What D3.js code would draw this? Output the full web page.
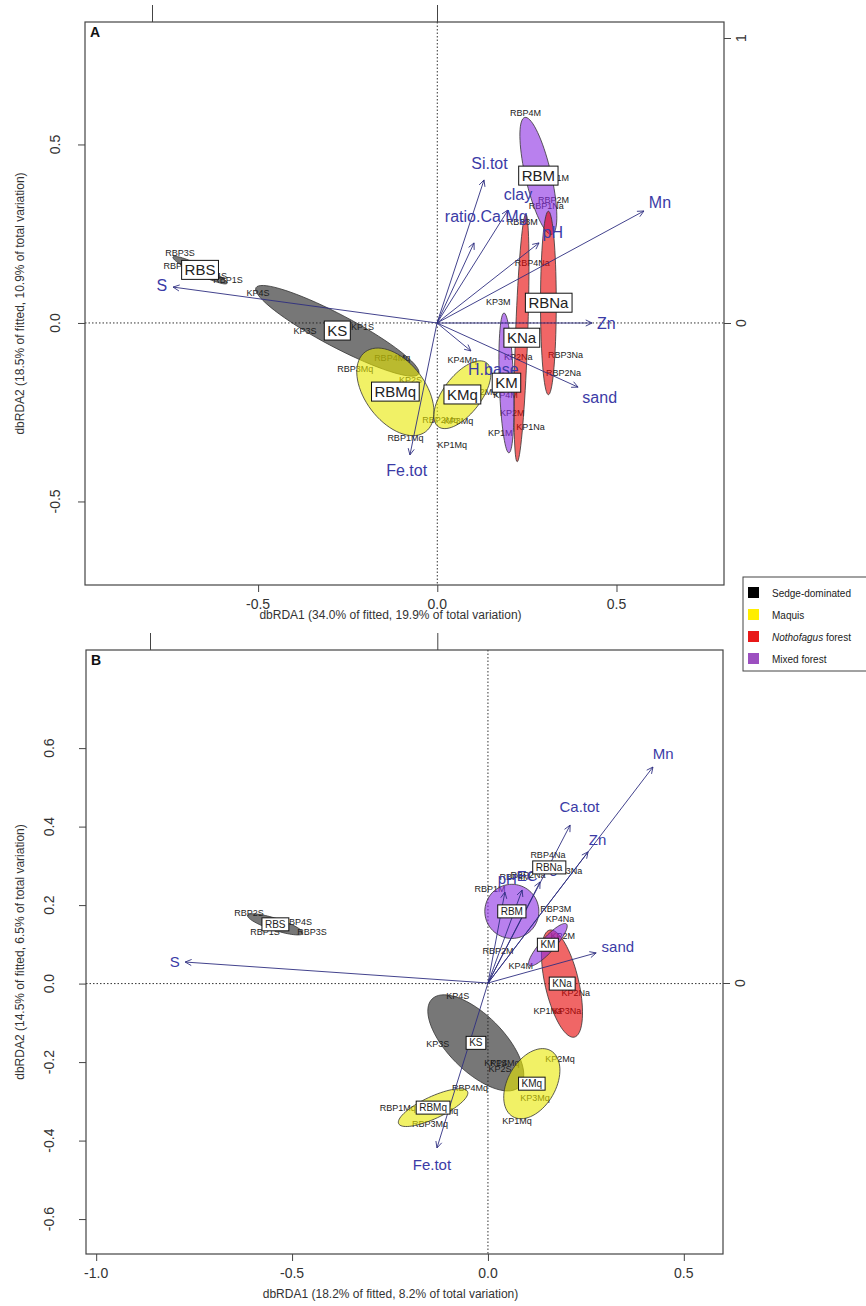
<!DOCTYPE html>
<html>
<head>
<meta charset="utf-8">
<script src="https://cdn.jsdelivr.net/npm/d3@7"></script>
<style>
  body { margin: 0; background: #fff; }
  svg { display: block; font-family: "Liberation Sans", Arial, sans-serif; }
</style>
</head>
<body>
<div id="chart"></div>
<script>
// ---------- Panel A data ----------
var sitesA = ["RBP4M","RBP1M","RBP2M","RBP1Na","RBP3M","RBP4Na","KP3M","RBP3Na","KP2Na","RBP2Na",
  "KP4Mq","KP2Mq","RBP2Mq","KP3Mq","KP1Mq","RBP1Mq","RBP4Mq","RBP3Mq","KP2S","KP1S",
  "KP3S","KP4S","RBP3S","RBP2S","RBP1S","RBP4S","KP2M","KP1Na","KP1M","KP4M"];
var siteXA = [0.246,0.324,0.324,0.304,0.237,0.265,0.170,0.358,0.226,0.352,
  0.070,0.126,0.008,0.059,0.042,-0.089,-0.126,-0.229,-0.075,-0.209,
  -0.369,-0.500,-0.718,-0.723,-0.584,-0.628,0.209,0.260,0.176,0.190];
var siteYA = [0.588,0.406,0.345,0.328,0.283,0.168,0.059,-0.090,-0.095,-0.140,
  -0.104,-0.193,-0.272,-0.275,-0.342,-0.322,-0.098,-0.129,-0.160,-0.011,
  -0.022,0.084,0.196,0.160,0.120,0.132,-0.252,-0.291,-0.308,-0.202];

var groupsA = ["RBS","KS","RBMq","KMq","RBM","RBNa","KNa","KM"];
var habitatA = ["Sedge","Sedge","Maquis","Maquis","Mixed","Nothofagus","Nothofagus","Mixed"];
var ellXA = [-0.662,-0.279,-0.117,0.070,0.282,0.310,0.235,0.193];
var ellYA = [0.148,-0.022,-0.193,-0.201,0.412,0.056,-0.042,-0.168];
var ellSemiA = [0.084,0.257,0.140,0.112,0.168,0.257,0.347,0.196];
var ellSemiBA = [0.013,0.045,0.084,0.053,0.036,0.022,0.017,0.020];
var ellAngleA = [-26,-28,-53,53,103,90,88,92];

var envA = ["S","Si.tot","clay","ratio.Ca.Mg","pH","Mn","Zn","sand","H.base","Fe.tot"];
var envXA = [-0.926,0.165,0.249,0.130,0.358,0.726,0.544,0.495,0.119,-0.095];
var envYA = [0.126,0.502,0.396,0.281,0.281,0.393,0.000,-0.225,-0.098,-0.463];

// ---------- Panel B data ----------
var sitesB = ["RBP2S","RBP1S","RBP4S","RBP3S","KP4S","KP3S","KP1S","KP2S","KP4Mq","RBP4Mq",
  "RBP1Mq","RBP3Mq","RBP2Mq","KP2Mq","KP3Mq","KP1Mq","KP2Na","KP1Na","KP3Na","KP4Na",
  "KP4M","RBP2M","KP2M","RBP3M","RBP1M","RBP4Na","RBP3Na","RBP2Na","RBP4M"];
var siteXB = [-0.610,-0.569,-0.487,-0.449,-0.077,-0.128,0.020,0.031,0.043,-0.046,
  -0.230,-0.148,-0.122,0.184,0.120,0.074,0.224,0.153,0.202,0.184,
  0.084,0.026,0.191,0.173,0.005,0.153,0.196,0.102,0.069];
var siteYB = [0.179,0.133,0.158,0.133,-0.031,-0.153,-0.202,-0.217,-0.202,-0.265,
  -0.316,-0.357,-0.324,-0.191,-0.291,-0.349,-0.023,-0.069,-0.069,0.166,
  0.046,0.084,0.122,0.191,0.242,0.327,0.288,0.278,0.273];

var groupsB = ["RBS","KS","KMq","RBMq","KNa","RBM","KM","RBNa"];
var habitatB = ["Sedge","Sedge","Maquis","Maquis","Nothofagus","Mixed","Mixed","Nothofagus"];
var ellXB = [-0.543,-0.031,0.112,-0.140,0.189,0.061,0.153,0.156];
var ellYB = [0.151,-0.151,-0.255,-0.316,0.000,0.184,0.099,0.296];
var ellSemiB = [0.074,0.158,0.097,0.097,0.140,0.069,0.071,0.036];
var ellSemiBB = [0.015,0.071,0.061,0.028,0.043,0.069,0.018,0.010];
var ellAngleB = [-18,-45,60,25,103,0,48,0];

var envB = ["S","Fe.tot","Mn","Ca.tot","Zn","sand","pH","EC","Mg"];
var envXB = [-0.896,-0.151,0.488,0.243,0.296,0.320,0.050,0.101,0.154];
var envYB = [0.062,-0.488,0.639,0.467,0.388,0.089,0.269,0.275,0.299];

var legendNames = ["Sedge-dominated","Maquis","Nothofagus forest","Mixed forest"];

var fillColor = { Sedge: "#1c1c1c", Maquis: "#e8e800", Nothofagus: "#e60000", Mixed: "#8a2be2" };
var legendColor = ["#000000", "#ffee00", "#e81818", "#9c4fc0"];

var svg = d3.select("#chart").append("svg")
  .attr("width", 866)
  .attr("height", 1306);

var fmt = function(v) { return v.toFixed(1); };

function ellipsePoints(cx, cy, a, b, ang) {
  var th = ang * Math.PI / 180;
  return d3.range(0, 73).map(function(i) {
    var t = i / 72 * 2 * Math.PI;
    return [cx + a * Math.cos(th) * Math.cos(t) - b * Math.sin(th) * Math.sin(t),
            cy + a * Math.sin(th) * Math.cos(t) + b * Math.cos(th) * Math.sin(t)];
  });
}

function drawPanel(p) {
  var x = p.x, y = p.y, ax = p.ax, ay = p.ay;
  var left = x.range()[0], right = x.range()[1];
  var bottom = y.range()[0], top = y.range()[1];
  var g = svg.append("g");

  // zero lines
  g.append("line").attr("x1", x(0)).attr("x2", x(0)).attr("y1", top).attr("y2", bottom)
    .attr("stroke", "#333").attr("stroke-dasharray", "1.5,2");
  g.append("line").attr("x1", left).attr("x2", right).attr("y1", y(0)).attr("y2", y(0))
    .attr("stroke", "#333").attr("stroke-dasharray", "1.5,2");

  // site labels
  g.selectAll(".site").data(p.sites).enter().append("text")
    .attr("x", function(d, i) { return x(p.siteX[i]); })
    .attr("y", function(d, i) { return y(p.siteY[i]); })
    .attr("text-anchor", "middle").attr("dy", "0.35em")
    .attr("font-size", 9).attr("fill", "#222")
    .text(function(d) { return d; });

  // ellipses
  var line = d3.line().x(function(d) { return x(d[0]); }).y(function(d) { return y(d[1]); })
    .curve(d3.curveLinearClosed);
  g.selectAll(".ell").data(p.groups).enter().append("path")
    .attr("d", function(d, i) {
      return line(ellipsePoints(p.ellX[i], p.ellY[i], p.ellA[i], p.ellB[i], p.ellAng[i]));
    })
    .attr("fill", function(d, i) { return fillColor[p.habitat[i]]; })
    .attr("fill-opacity", 0.6)
    .attr("stroke", "#333").attr("stroke-width", 0.8);

  // arrows
  var ox = ax(0), oy = ay(0);
  var arr = g.append("g");
  p.env.forEach(function(name, i) {
    var tx = ax(p.envX[i]), ty = ay(p.envY[i]);
    var ang = Math.atan2(ty - oy, tx - ox);
    arr.append("line").attr("x1", ox).attr("y1", oy).attr("x2", tx).attr("y2", ty)
      .attr("stroke", "#2e2e80").attr("stroke-width", 0.9);
    [-0.45, 0.45].forEach(function(da) {
      arr.append("line").attr("x1", tx).attr("y1", ty)
        .attr("x2", tx - 7 * Math.cos(ang + da)).attr("y2", ty - 7 * Math.sin(ang + da))
        .attr("stroke", "#2e2e80").attr("stroke-width", 0.9);
    });
    var t = arr.append("text").attr("font-size", p.envFont).attr("fill", "#3b3ba6")
      .attr("text-anchor", "middle").attr("dy", "0.35em").text(name);
    var w = t.node().getComputedTextLength();
    var ux = Math.cos(ang), uy = Math.sin(ang);
    var off = 5 + Math.abs(ux) * w / 2 + Math.abs(uy) * p.envFont * 0.45;
    t.attr("x", tx + ux * off).attr("y", ty + uy * off);
  });

  // centroid boxes
  p.groups.forEach(function(name, i) {
    var cx = x(p.ellX[i]), cy = y(p.ellY[i]);
    var bg = g.append("g");
    var r = bg.append("rect").attr("fill", "#fff").attr("stroke", "#111").attr("stroke-width", 1);
    var t = bg.append("text").attr("x", cx).attr("y", cy).attr("dy", "0.35em")
      .attr("text-anchor", "middle").attr("font-size", p.boxFont).attr("fill", "#222").text(name);
    var bb = t.node().getBBox();
    r.attr("x", bb.x - 3).attr("y", bb.y - 1).attr("width", bb.width + 6).attr("height", bb.height + 2);
  });

  // frame
  g.append("rect").attr("x", left).attr("y", top).attr("width", right - left).attr("height", bottom - top)
    .attr("fill", "none").attr("stroke", "#444").attr("stroke-width", 1.2);

  // bottom axis
  var xa = g.append("g").attr("transform", "translate(0," + bottom + ")")
    .call(d3.axisBottom(x).tickValues(p.xTicks).tickSize(7).tickFormat(""));
  xa.select(".domain").remove();
  xa.selectAll("line").attr("stroke", "#444");
  p.xTicks.forEach(function(v) {
    g.append("text").attr("x", x(v)).attr("y", bottom + p.xLabOff).attr("text-anchor", "middle")
      .attr("font-size", 14).attr("fill", "#333").text(fmt(v));
  });

  // left axis
  var ya = g.append("g").attr("transform", "translate(" + left + ",0)")
    .call(d3.axisLeft(y).tickValues(p.yTicks).tickSize(7).tickFormat(""));
  ya.select(".domain").remove();
  ya.selectAll("line").attr("stroke", "#444");
  p.yTicks.forEach(function(v) {
    var lx = left - p.yLabOff, ly = y(v);
    g.append("text").attr("x", lx).attr("y", ly).attr("text-anchor", "middle")
      .attr("transform", "rotate(-90," + lx + "," + ly + ")")
      .attr("font-size", 14).attr("fill", "#333").text(fmt(v));
  });

  // secondary axes (biplot scale)
  var ta = g.append("g").attr("transform", "translate(0," + top + ")")
    .call(d3.axisTop(ax).tickValues(p.topTicks).tickSize(p.topTickLen).tickFormat(""));
  ta.select(".domain").remove();
  ta.selectAll("line").attr("stroke", "#444");
  var ra = g.append("g").attr("transform", "translate(" + right + ",0)")
    .call(d3.axisRight(ay).tickValues(p.rightTicks).tickSize(7).tickFormat(""));
  ra.select(".domain").remove();
  ra.selectAll("line").attr("stroke", "#444");
  p.rightTicks.forEach(function(v) {
    var lx = right + 22, ly = ay(v);
    g.append("text").attr("x", lx).attr("y", ly).attr("text-anchor", "middle")
      .attr("transform", "rotate(-90," + lx + "," + ly + ")")
      .attr("font-size", 14).attr("fill", "#333").text(v);
  });

  // axis titles
  g.append("text").attr("x", (left + right) / 2 - 14).attr("y", p.xTitleY).attr("text-anchor", "middle")
    .attr("font-size", 12).attr("fill", "#333").text(p.xTitle);
  g.append("text").attr("transform", "translate(" + p.yTitleX + "," + ((top + bottom) / 2) + ") rotate(-90)")
    .attr("text-anchor", "middle").attr("font-size", 12).attr("fill", "#333").text(p.yTitle);

  // panel letter
  g.append("text").attr("x", left + 5).attr("y", top + 15).attr("font-size", 14)
    .attr("font-weight", "bold").attr("fill", "#111").text(p.letter);
}

// Panel A scales
var xA = d3.scaleLinear().domain([-0.983, 0.80]).range([85, 724]);
var yA = d3.scaleLinear().domain([-0.734, 0.843]).range([585, 22]);
var axA = d3.scaleLinear().domain([-1, 1]).range([152, 722]);
var ayA = d3.scaleLinear().domain([-1, 1]).range([608, 38]);

drawPanel({
  x: xA, y: yA, ax: axA, ay: ayA,
  sites: sitesA, siteX: siteXA, siteY: siteYA,
  groups: groupsA, habitat: habitatA, ellX: ellXA, ellY: ellYA,
  ellA: ellSemiA, ellB: ellSemiBA, ellAng: ellAngleA,
  env: envA, envX: envXA, envY: envYA, envFont: 16, boxFont: 15,
  xTicks: [-0.5, 0, 0.5], yTicks: [-0.5, 0, 0.5],
  topTicks: [-1, 0], topTickLen: 17, rightTicks: [0, 1],
  xLabOff: 24, yLabOff: 25, xTitleY: 619, yTitleX: 24,
  xTitle: "dbRDA1 (34.0% of fitted, 19.9% of total variation)",
  yTitle: "dbRDA2 (18.5% of fitted, 10.9% of total variation)",
  letter: "A"
});

// Panel B scales
var xB = d3.scaleLinear().domain([-1.026, 0.600]).range([86, 723]);
var yB = d3.scaleLinear().domain([-0.689, 0.850]).range([1254, 650]);
var axB = d3.scaleLinear().domain([-1, 1]).range([150, 826]);
var ayB = d3.scaleLinear().domain([-1, 1]).range([1321, 645]);

drawPanel({
  x: xB, y: yB, ax: axB, ay: ayB,
  sites: sitesB, siteX: siteXB, siteY: siteYB,
  groups: groupsB, habitat: habitatB, ellX: ellXB, ellY: ellYB,
  ellA: ellSemiB, ellB: ellSemiBB, ellAng: ellAngleB,
  env: envB, envX: envXB, envY: envYB, envFont: 15, boxFont: 10,
  xTicks: [-1, -0.5, 0, 0.5], yTicks: [-0.6, -0.4, -0.2, 0, 0.2, 0.4, 0.6],
  topTicks: [-1, -0.15], topTickLen: 17, rightTicks: [0],
  xLabOff: 24, yLabOff: 32, xTitleY: 1298, yTitleX: 24,
  xTitle: "dbRDA1 (18.2% of fitted, 8.2% of total variation)",
  yTitle: "dbRDA2 (14.5% of fitted, 6.5% of total variation)",
  letter: "B"
});

// legend
var lg = svg.append("g").attr("transform", "translate(743,577)");
lg.append("rect").attr("x", 0).attr("y", 0).attr("width", 140).attr("height", 94)
  .attr("fill", "#fff").attr("stroke", "#444").attr("stroke-width", 1);
legendNames.forEach(function(name, i) {
  lg.append("rect").attr("x", 5).attr("y", 10 + i * 22).attr("width", 11).attr("height", 11)
    .attr("fill", legendColor[i]);
  var t = lg.append("text").attr("x", 29).attr("y", 19.5 + i * 22).attr("font-size", 10).attr("fill", "#222");
  if (name.indexOf("Nothofagus") === 0) {
    t.append("tspan").attr("font-style", "italic").text("Nothofagus");
    t.append("tspan").text(" forest");
  } else {
    t.text(name);
  }
});
</script>
</body>
</html>
